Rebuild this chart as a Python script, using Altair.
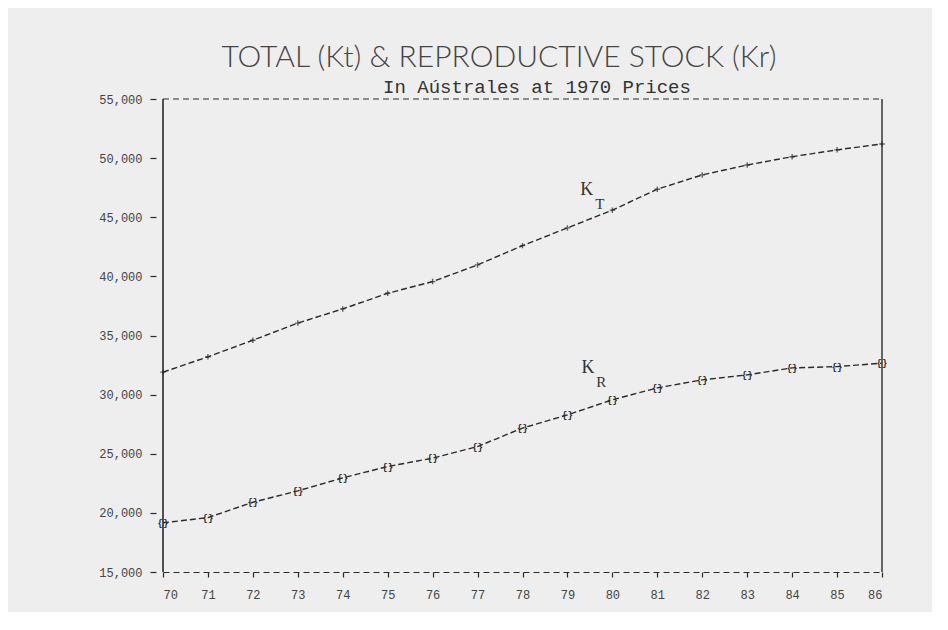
import altair as alt
import pandas as pd

years = list(range(70, 87))
kt = [31900, 33200, 34600, 36050, 37250, 38570, 39560, 40970, 42600,
      44100, 45600, 47370, 48580, 49420, 50120, 50700, 51200]
kr = [19160, 19600, 20900, 21860, 22960, 23920, 24630, 25610, 27170,
      28290, 29560, 30570, 31250, 31670, 32260, 32370, 32660]
y_ticks = [15000, 20000, 25000, 30000, 35000, 40000, 45000, 50000, 55000]

df = pd.DataFrame({
    "year": years * 2,
    "value": kt + kr,
    "series": ["KT"] * len(years) + ["KR"] * len(years),
})
df_kt = df[df.series == "KT"]
df_kr = df[df.series == "KR"]

INK = "#2a2a2a"
W, H = 719, 473

xs = alt.Scale(domain=[70, 86], nice=False, zero=False)
ys = alt.Scale(domain=[15000, 55000], nice=False, zero=False)

x_axis = alt.Axis(
    values=years, labelExpr="format(datum.value, 'd')", title=None, grid=False,
    domainDash=[6, 4], domainColor=INK, domainWidth=1.2,
    tickColor=INK, tickSize=5, tickWidth=1.2,
    labelFont="Liberation Mono", labelFontSize=12, labelColor="#444",
    labelPadding=12)
y_axis = alt.Axis(
    values=y_ticks, labelExpr="format(datum.value, ',')", title=None, grid=False,
    domain=False, offset=7, tickColor=INK, tickSize=6, tickWidth=1.2,
    labelFont="Liberation Mono", labelFontSize=12, labelColor="#444",
    labelPadding=8)


def X(field):
    return alt.X(field, scale=xs, axis=x_axis)


def Y(field):
    return alt.Y(field, scale=ys, axis=y_axis)


kt_line = alt.Chart(df_kt).mark_line(color=INK, strokeWidth=1.4, strokeDash=[6, 3]).encode(
    x=X("year:Q"), y=Y("value:Q"))
kr_line = alt.Chart(df_kr).mark_line(color=INK, strokeWidth=1.4, strokeDash=[6, 3]).encode(
    x=X("year:Q"), y=Y("value:Q"))

kt_pts = alt.Chart(df_kt).mark_point(
    shape="M-1,0L1,0M0,-1L0,1", size=30, color=INK, strokeWidth=1.4, filled=False
).encode(x=X("year:Q"), y=Y("value:Q"))
kr_pts = alt.Chart(df_kr).mark_text(
    text="{}", font="Liberation Mono", fontSize=9, fontWeight="bold", color=INK
).encode(x=X("year:Q"), y=Y("value:Q"))

frame = pd.DataFrame({"x0": [70], "x1": [86], "y0": [15000], "y1": [55000]})
left_rule = alt.Chart(frame).mark_rule(color=INK, strokeWidth=1.6).encode(
    x=X("x0:Q"), y=Y("y0:Q"), y2="y1:Q")
right_rule = alt.Chart(frame).mark_rule(color=INK, strokeWidth=1.4).encode(
    x=X("x1:Q"), y=Y("y0:Q"), y2="y1:Q")
top_rule = alt.Chart(frame).mark_rule(color=INK, strokeWidth=1.2, strokeDash=[6, 4]).encode(
    y=Y("y1:Q"), x=X("x0:Q"), x2="x1:Q")

labels = pd.DataFrame({
    "x": [79.43, 79.72, 79.46, 79.75],
    "y": [47310, 46120, 32260, 31080],
    "t": ["K", "T", "K", "R"],
    "size": [18, 15, 18, 15],
})
lab = alt.Chart(labels).mark_text(font="Liberation Serif", color="#333").encode(
    x=X("x:Q"), y=Y("y:Q"), text="t:N",
    size=alt.Size("size:Q", scale=None, legend=None))

title = alt.Chart(frame).mark_text(
    text="TOTAL (Kt) & REPRODUCTIVE STOCK (Kr)", font="Lato",
    fontSize=30, fontWeight=300, color="#444", align="center", baseline="middle"
).encode(x=alt.value(336), y=alt.value(-41))
subtitle = alt.Chart(frame).mark_text(
    text="In Aústrales at 1970 Prices", font="Liberation Mono",
    fontSize=19, color="#333", align="center", baseline="middle"
).encode(x=alt.value(374), y=alt.value(-12))

chart = alt.layer(
    top_rule, left_rule, right_rule, kt_line, kr_line, kt_pts, kr_pts, lab, title, subtitle
).properties(
    width=W, height=H,
    autosize=alt.AutoSizeParams(type="none"),
    padding={"left": 155, "top": 91, "right": 50, "bottom": 40},
    background="#eeeeee",
).configure_view(stroke=None)

chart.save("out.html", embed_options={"renderer": "svg", "actions": False})
